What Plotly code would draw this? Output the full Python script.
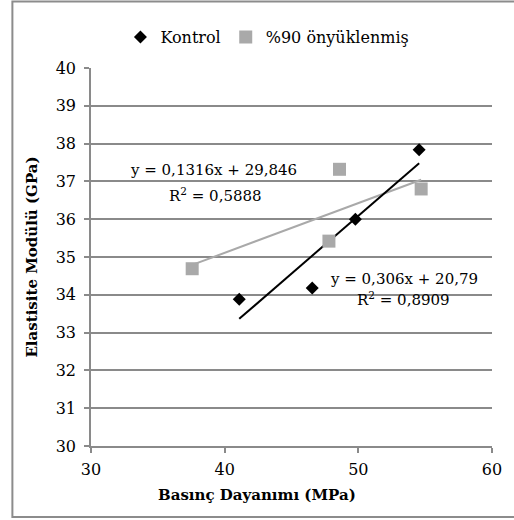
import plotly.graph_objects as go

# ---- data ----
kontrol_x = [41.09, 46.55, 49.78, 54.55]
kontrol_y = [33.88, 34.18, 36.00, 37.84]
onyuk_x = [37.57, 47.80, 48.59, 54.70]
onyuk_y = [34.69, 35.42, 37.32, 36.80]

kontrol_fit = [0.306, 20.79]     # slope, intercept
onyuk_fit = [0.1316, 29.846]

kontrol_eq = ["y = 0,306x + 20,79", "R<sup>2</sup> = 0,8909"]
onyuk_eq = ["y = 0,1316x + 29,846", "R<sup>2</sup> = 0,5888"]

x_ticks = [30, 40, 50, 60]
y_ticks = [30, 31, 32, 33, 34, 35, 36, 37, 38, 39, 40]

series_names = ["Kontrol", "%90 önyüklenmiş"]
x_title = "Basınç Dayanımı (MPa)"
y_title = "Elastisite Modülü (GPa)"

FONT = "DejaVu Serif"
GRID = "#8a8a8a"
GRAY = "#a9a9a9"

fig = go.Figure()

def line_pts(fit, xs):
    x0, x1 = min(xs), max(xs)
    return [x0, x1], [fit[0] * x0 + fit[1], fit[0] * x1 + fit[1]]

lx, ly = line_pts(onyuk_fit, onyuk_x)
fig.add_trace(go.Scatter(x=lx, y=ly, mode="lines", line=dict(color=GRAY, width=2),
                         showlegend=False, hoverinfo="skip"))
lx, ly = line_pts(kontrol_fit, kontrol_x)
fig.add_trace(go.Scatter(x=lx, y=ly, mode="lines", line=dict(color="black", width=2),
                         showlegend=False, hoverinfo="skip"))

fig.add_trace(go.Scatter(x=kontrol_x, y=kontrol_y, mode="markers", name=series_names[0],
                         marker=dict(symbol="diamond", size=10, color="black")))
fig.add_trace(go.Scatter(x=onyuk_x, y=onyuk_y, mode="markers", name=series_names[1],
                         marker=dict(symbol="square", size=13, color=GRAY)))

# trendline equations
ann_font = dict(family=FONT, size=15, color="black")
fig.add_annotation(x=39.16, y=37.29, text=onyuk_eq[0], showarrow=False, font=ann_font)
fig.add_annotation(x=39.30, y=36.63, text=onyuk_eq[1], showarrow=False, font=ann_font)
fig.add_annotation(x=53.38, y=34.43, text=kontrol_eq[0], showarrow=False, font=ann_font)
fig.add_annotation(x=53.40, y=33.88, text=kontrol_eq[1], showarrow=False, font=ann_font)

# x axis title centred on the chart area
fig.add_annotation(xref="paper", yref="paper", x=(258 - 91) / 403, y=(446 - 495) / 378,
                   xanchor="center", yanchor="middle",
                   text="<b>" + x_title + "</b>", showarrow=False,
                   font=dict(family=FONT, size=15, color="black"))

# outer chart border
fig.add_shape(type="rect", xref="paper", yref="paper",
              x0=(12 - 91) / 403, x1=(522 - 91) / 403,
              y0=(446 - 517) / 378, y1=(446 - 1.5) / 378,
              line=dict(color="#8c8c8c", width=2))

fig.update_layout(
    width=514, height=520,
    margin=dict(l=91, r=20, t=68, b=74),
    paper_bgcolor="white", plot_bgcolor="white",
    font=dict(family=FONT, size=15, color="black"),
    legend=dict(orientation="h", x=0.44, xanchor="center", y=(446 - 37) / 378, yanchor="middle",
                font=dict(family=FONT, size=16), itemwidth=30, tracegroupgap=0),
    xaxis=dict(range=[30, 60], tickvals=x_ticks, showgrid=False, zeroline=False,
               showline=True, linecolor=GRID, linewidth=1.5,
               ticks="outside", ticklen=5, tickcolor=GRID, tickwidth=1.5,
               ticklabelstandoff=3,
               tickfont=dict(family=FONT, size=16)),
    yaxis=dict(range=[30, 40], tickvals=y_ticks, showgrid=True, gridcolor=GRID, gridwidth=1.5,
               zeroline=False, showline=True, linecolor=GRID, linewidth=1.5,
               ticks="outside", ticklen=5, tickcolor=GRID, tickwidth=1.5,
               ticklabelstandoff=5,
               tickfont=dict(family=FONT, size=16),
               title=dict(text="<b>" + y_title + "</b>", font=dict(family=FONT, size=15), standoff=14)),
)

fig.write_html("out.html")
